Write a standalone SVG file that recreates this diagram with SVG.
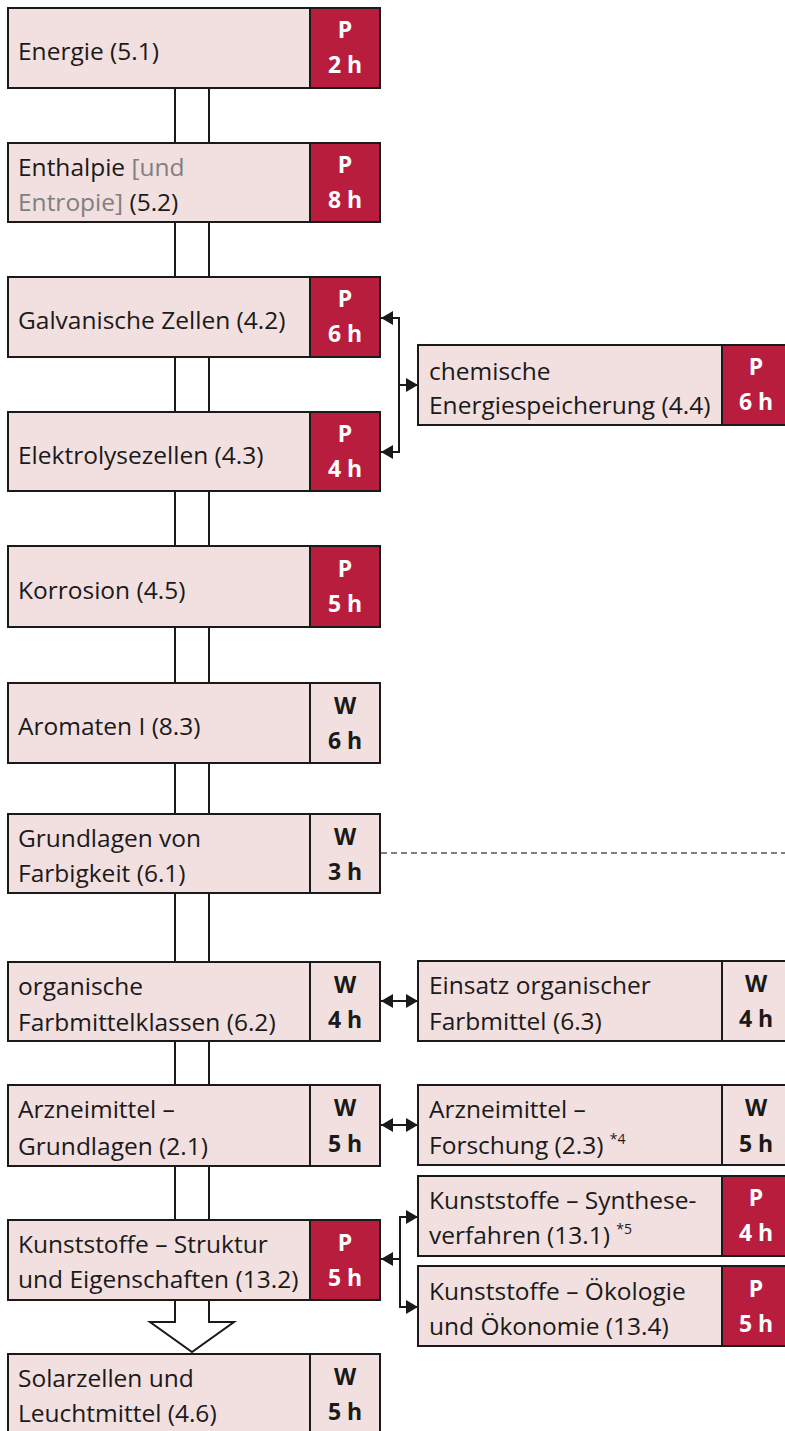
<svg xmlns="http://www.w3.org/2000/svg" width="785" height="1431" viewBox="0 0 785 1431">
<style>
.box{fill:#f2dfdf;stroke:#1a1a1a;stroke-width:2}
.tagP{fill:#b81d3e;stroke:#1a1a1a;stroke-width:2}
.tagW{fill:#f2dfdf;stroke:#1a1a1a;stroke-width:2}
.t{font-family:"Open Sans","Noto Sans",sans-serif;font-size:24.5px;fill:#1a1a1a}
.g{fill:#808080}
.lp{font-family:"Open Sans","Noto Sans",sans-serif;font-size:23px;font-weight:bold;fill:#ffffff;text-anchor:middle}
.lw{font-family:"Open Sans","Noto Sans",sans-serif;font-size:23px;font-weight:bold;fill:#1a1a1a;text-anchor:middle}
.sup{font-size:14px}
.ln{fill:none;stroke:#1a1a1a;stroke-width:2}
.dash{fill:none;stroke:#555;stroke-width:1.5;stroke-dasharray:6,4}
</style>
<defs>
<marker id="ah" viewBox="0 0 12 14" refX="12" refY="7" markerWidth="12" markerHeight="14" markerUnits="userSpaceOnUse" orient="auto-start-reverse">
<path d="M0,0 L12,7 L0,14 Z" fill="#1a1a1a"/>
</marker>
</defs>
<g id="connectors">
<path d="M175,88 L175,1322 L150,1322 L192,1352 L234,1322 L209,1322 L209,88 Z" fill="#ffffff" stroke="#1a1a1a" stroke-width="2"/>
<path class="ln" d="M381,318 L399,318 L399,452 L381,452" marker-start="url(#ah)" marker-end="url(#ah)"/>
<path class="ln" d="M399,385 L418,385" marker-end="url(#ah)"/>
<path class="dash" d="M381,853 L785,853"/>
<path class="ln" d="M381,1001 L418,1001" marker-start="url(#ah)" marker-end="url(#ah)"/>
<path class="ln" d="M381,1125 L418,1125" marker-start="url(#ah)" marker-end="url(#ah)"/>
<path class="ln" d="M418,1217 L400,1217 L400,1307 L418,1307" marker-start="url(#ah)" marker-end="url(#ah)"/>
<path class="ln" d="M400,1259 L381,1259" marker-end="url(#ah)"/>
</g>
<g id="n51">
<rect class="box" x="8" y="8" width="302" height="80"/><rect class="tagP" x="310" y="8" width="70" height="80"/>
<text class="t" x="18" y="60">Energie (5.1)</text>
<text class="lp" x="345" y="38">P</text><text class="lp" x="345" y="73">2 h</text>
</g>
<g id="n52">
<rect class="box" x="8" y="143" width="302" height="79"/><rect class="tagP" x="310" y="143" width="70" height="79"/>
<text class="t" x="18" y="176">Enthalpie <tspan class="g">[und</tspan></text>
<text class="t" x="18" y="211"><tspan class="g">Entropie]</tspan> (5.2)</text>
<text class="lp" x="345" y="173">P</text><text class="lp" x="345" y="208">8 h</text>
</g>
<g id="n42">
<rect class="box" x="8" y="277" width="302" height="80"/><rect class="tagP" x="310" y="277" width="70" height="80"/>
<text class="t" x="18" y="329">Galvanische Zellen (4.2)</text>
<text class="lp" x="345" y="307">P</text><text class="lp" x="345" y="342">6 h</text>
</g>
<g id="n43">
<rect class="box" x="8" y="412" width="302" height="79"/><rect class="tagP" x="310" y="412" width="70" height="79"/>
<text class="t" x="18" y="464">Elektrolysezellen (4.3)</text>
<text class="lp" x="345" y="442">P</text><text class="lp" x="345" y="477">4 h</text>
</g>
<g id="n44">
<rect class="box" x="418" y="345" width="304" height="80"/><rect class="tagP" x="722" y="345" width="70" height="80"/>
<text class="t" x="429" y="380">chemische</text>
<text class="t" x="429" y="414">Energiespeicherung (4.4)</text>
<text class="lp" x="756" y="375">P</text><text class="lp" x="756" y="410">6 h</text>
</g>
<g id="n45">
<rect class="box" x="8" y="546" width="302" height="81"/><rect class="tagP" x="310" y="546" width="70" height="81"/>
<text class="t" x="18" y="599">Korrosion (4.5)</text>
<text class="lp" x="345" y="577">P</text><text class="lp" x="345" y="612">5 h</text>
</g>
<g id="n83">
<rect class="box" x="8" y="683" width="302" height="80"/><rect class="tagW" x="310" y="683" width="70" height="80"/>
<text class="t" x="18" y="735">Aromaten I (8.3)</text>
<text class="lw" x="345" y="714">W</text><text class="lw" x="345" y="749">6 h</text>
</g>
<g id="n61">
<rect class="box" x="8" y="814" width="302" height="79"/><rect class="tagW" x="310" y="814" width="70" height="79"/>
<text class="t" x="18" y="847">Grundlagen von</text>
<text class="t" x="18" y="882">Farbigkeit (6.1)</text>
<text class="lw" x="345" y="845">W</text><text class="lw" x="345" y="880">3 h</text>
</g>
<g id="n62">
<rect class="box" x="8" y="962" width="302" height="79"/><rect class="tagW" x="310" y="962" width="70" height="79"/>
<text class="t" x="18" y="995">organische</text>
<text class="t" x="18" y="1031">Farbmittelklassen (6.2)</text>
<text class="lw" x="345" y="993">W</text><text class="lw" x="345" y="1028">4 h</text>
</g>
<g id="n63">
<rect class="box" x="418" y="961" width="304" height="80"/><rect class="tagW" x="722" y="961" width="70" height="80"/>
<text class="t" x="429" y="994">Einsatz organischer</text>
<text class="t" x="429" y="1030">Farbmittel (6.3)</text>
<text class="lw" x="756" y="992">W</text><text class="lw" x="756" y="1027">4 h</text>
</g>
<g id="n21">
<rect class="box" x="8" y="1085" width="302" height="81"/><rect class="tagW" x="310" y="1085" width="70" height="81"/>
<text class="t" x="18" y="1118">Arzneimittel –</text>
<text class="t" x="18" y="1155">Grundlagen (2.1)</text>
<text class="lw" x="345" y="1116">W</text><text class="lw" x="345" y="1152">5 h</text>
</g>
<g id="n23">
<rect class="box" x="418" y="1085" width="304" height="80"/><rect class="tagW" x="722" y="1085" width="70" height="80"/>
<text class="t" x="429" y="1118">Arzneimittel –</text>
<text class="t" x="429" y="1154">Forschung (2.3) <tspan class="sup" dy="-10">*4</tspan></text>
<text class="lw" x="756" y="1116">W</text><text class="lw" x="756" y="1152">5 h</text>
</g>
<g id="n131">
<rect class="box" x="418" y="1176" width="304" height="80"/><rect class="tagP" x="722" y="1176" width="70" height="80"/>
<text class="t" x="429" y="1209">Kunststoffe – Synthese-</text>
<text class="t" x="429" y="1244">verfahren (13.1) <tspan class="sup" dy="-10">*5</tspan></text>
<text class="lp" x="756" y="1206">P</text><text class="lp" x="756" y="1241">4 h</text>
</g>
<g id="n132">
<rect class="box" x="8" y="1220" width="302" height="80"/><rect class="tagP" x="310" y="1220" width="70" height="80"/>
<text class="t" x="18" y="1253">Kunststoffe – Struktur</text>
<text class="t" x="18" y="1288">und Eigenschaften (13.2)</text>
<text class="lp" x="345" y="1251">P</text><text class="lp" x="345" y="1286">5 h</text>
</g>
<g id="n134">
<rect class="box" x="418" y="1266" width="304" height="80"/><rect class="tagP" x="722" y="1266" width="70" height="80"/>
<text class="t" x="429" y="1300">Kunststoffe – Ökologie</text>
<text class="t" x="429" y="1335">und Ökonomie (13.4)</text>
<text class="lp" x="756" y="1297">P</text><text class="lp" x="756" y="1332">5 h</text>
</g>
<g id="n46">
<rect class="box" x="8" y="1354" width="302" height="82"/><rect class="tagW" x="310" y="1354" width="70" height="82"/>
<text class="t" x="18" y="1387">Solarzellen und</text>
<text class="t" x="18" y="1422">Leuchtmittel (4.6)</text>
<text class="lw" x="345" y="1385">W</text><text class="lw" x="345" y="1420">5 h</text>
</g>
</svg>
